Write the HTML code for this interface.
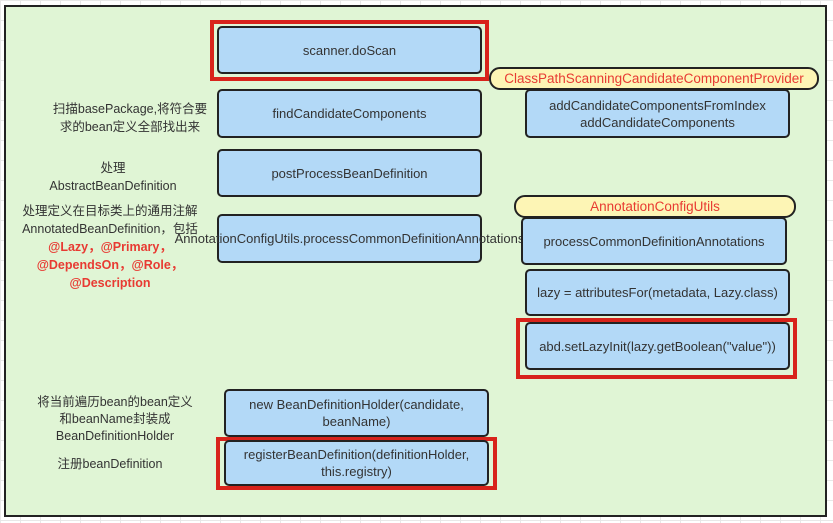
<!DOCTYPE html>
<html><head><meta charset="utf-8"><style>
body{margin:0;width:833px;height:523px;overflow:hidden;background:#fff;
background-image:linear-gradient(#e8e8e8 1px,transparent 1px),linear-gradient(90deg,#e8e8e8 1px,transparent 1px);background-size:20px 20px;
font-family:"Liberation Sans","Noto Sans CJK SC",sans-serif;font-size:13px;color:#333;position:relative}
.c{position:absolute;left:4px;top:5px;width:819px;height:508px;background:#e0f5d5;border:2px solid #222}
.b{position:absolute;background:#b3d9f7;border:2px solid #222;border-radius:5px;box-sizing:border-box;display:flex;align-items:center;justify-content:center;text-align:center;line-height:17px;padding:0 6px}
.r{position:absolute;border:4px solid #d8231b;box-sizing:border-box}
.y{position:absolute;background:#fdf5b5;border:2px solid #222;border-radius:11px;box-sizing:border-box;color:#e83a32;display:flex;align-items:center;justify-content:center;font-size:13.5px}
.t{position:absolute;text-align:center;line-height:18px;font-size:12.5px}
.red{color:#e83a32}
</style></head><body>
<div class="c"></div>
<div class="r" style="left:210px;top:20px;width:279px;height:61px"></div>
<div class="b" style="left:217px;top:26px;width:265px;height:48px">scanner.doScan</div>
<div class="b" style="left:217px;top:89px;width:265px;height:49px">findCandidateComponents</div>
<div class="b" style="left:217px;top:149px;width:265px;height:48px">postProcessBeanDefinition</div>
<div class="b" style="left:217px;top:214px;width:265px;height:49px">AnnotationConfigUtils.processCommonDefinitionAnnotations</div>
<div class="y" style="left:489px;top:67px;width:330px;height:23px">ClassPathScanningCandidateComponentProvider</div>
<div class="b" style="left:525px;top:89px;width:265px;height:49px">addCandidateComponentsFromIndex<br>addCandidateComponents</div>
<div class="y" style="left:514px;top:195px;width:282px;height:23px">AnnotationConfigUtils</div>
<div class="b" style="left:521px;top:217px;width:266px;height:48px">processCommonDefinitionAnnotations</div>
<div class="b" style="left:525px;top:269px;width:265px;height:47px">lazy = attributesFor(metadata, Lazy.class)</div>
<div class="r" style="left:516px;top:318px;width:281px;height:61px"></div>
<div class="b" style="left:525px;top:322px;width:265px;height:48px">abd.setLazyInit(lazy.getBoolean("value"))</div>
<div class="b" style="left:224px;top:389px;width:265px;height:48px">new BeanDefinitionHolder(candidate, beanName)</div>
<div class="r" style="left:216px;top:437px;width:281px;height:53px"></div>
<div class="b" style="left:224px;top:440px;width:265px;height:46px">registerBeanDefinition(definitionHolder, this.registry)</div>
<div class="t" style="left:40px;top:100px;width:180px">扫描basePackage,将符合要<br>求的bean定义全部找出来</div>
<div class="t" style="left:23px;top:159px;width:180px">处理<br>AbstractBeanDefinition</div>
<div class="t" style="left:10px;top:202px;width:200px">处理定义在目标类上的通用注解<br>AnnotatedBeanDefinition，包括<br><b class="red">@Lazy，@Primary，<br>@DependsOn，@Role，<br>@Description</b></div>
<div class="t" style="left:15px;top:394px;width:200px;line-height:17px">将当前遍历bean的bean定义<br>和beanName封装成<br>BeanDefinitionHolder</div>
<div class="t" style="left:30px;top:455px;width:160px">注册beanDefinition</div>
</body></html>
